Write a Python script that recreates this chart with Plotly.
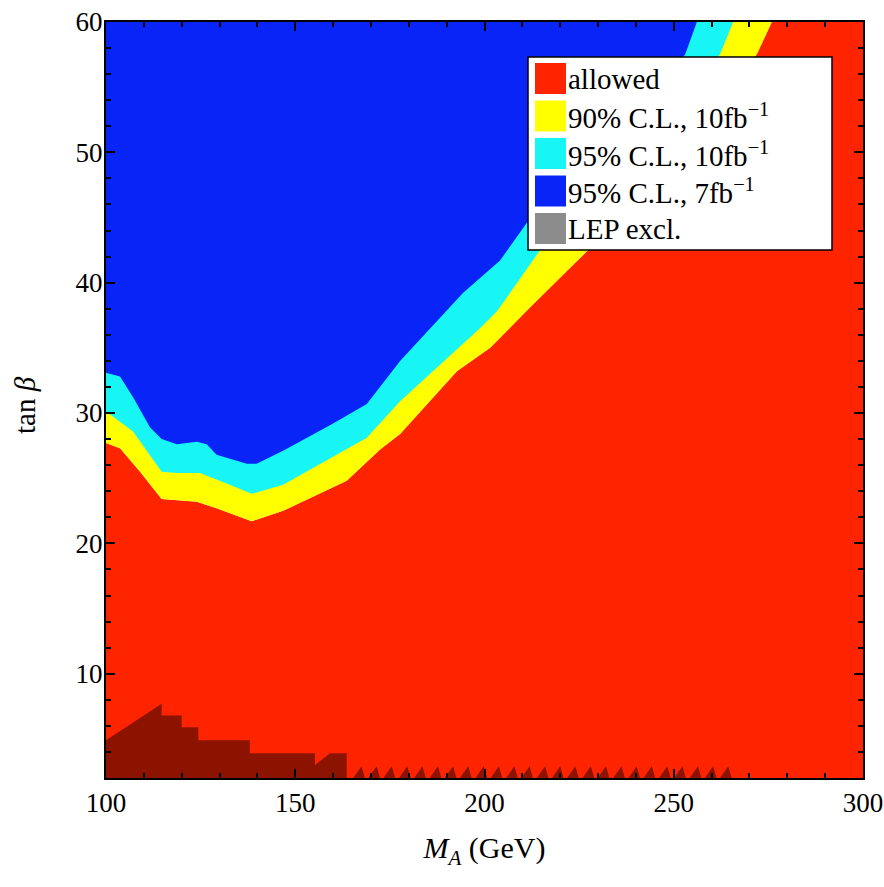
import plotly.graph_objects as go

# ---------------- data ----------------
X_MIN, X_MAX = 100, 300
Y_MIN, Y_MAX = 2, 60

# lower edge of the 95% C.L., 7 fb^-1 (blue) region
blue_ma = [100, 103.7, 107.2, 111.6, 114.7, 118.7, 124.0, 126.6, 129.2, 137.2, 139.8,
           146.8, 160.0, 168.9, 177.7, 194.3, 204.1, 211.2, 253.0, 256.1]
blue_tb = [33.1, 32.8, 31.2, 28.9, 28.0, 27.6, 27.8, 27.6, 26.8, 26.1, 26.1,
           27.1, 29.2, 30.7, 34.0, 39.2, 41.7, 44.6, 57.5, 60.0]

# lower edge of the 95% C.L., 10 fb^-1 (cyan) region
cyan_ma = [100, 101.0, 107.1, 114.7, 118.7, 124.8, 129.2, 138.5, 146.8, 162.6, 168.9,
           177.7, 198.8, 203.3, 214.7, 262.2, 265.7]
cyan_tb = [30.0, 29.9, 28.6, 25.5, 25.4, 25.4, 24.9, 23.8, 24.5, 27.1, 28.1,
           30.9, 36.5, 37.8, 42.5, 57.5, 60.0]

# lower edge of the 90% C.L., 10 fb^-1 (yellow) region
yellow_ma = [100, 103.7, 109.0, 114.7, 124.0, 129.2, 138.5, 146.8, 163.6, 172.4, 177.7,
             192.7, 201.5, 212.0, 227.0, 271.9, 275.9]
yellow_tb = [27.7, 27.3, 25.5, 23.4, 23.2, 22.7, 21.7, 22.5, 24.8, 27.2, 28.4,
             33.2, 35.0, 38.1, 42.4, 57.5, 60.0]

# LEP exclusion (stepped edge) and the small teeth along the bottom
lep_ma = [100, 114.7, 114.7, 120.0, 120.0, 124.4, 124.4, 138.0, 138.0, 155.2, 155.2,
          159.2, 163.6, 163.6]
lep_tb = [4.9, 7.7, 6.8, 6.8, 5.9, 5.9, 4.9, 4.9, 3.9, 3.9, 3.0,
          3.9, 3.9, 2.0]
lep_teeth_ma = [167.5, 171.5, 175.5, 179.6, 183.6, 187.7, 191.7, 195.7, 199.8, 203.8,
                207.9, 211.9, 216.0, 220.0, 224.0, 228.1, 232.1, 236.2, 240.2, 244.2,
                248.3, 252.3, 256.4, 260.4, 264.4]
lep_teeth_tb = 2.9

legend_labels = ["allowed",
                 "90% C.L., 10fb<sup>−1</sup>",
                 "95% C.L., 10fb<sup>−1</sup>",
                 "95% C.L., 7fb<sup>−1</sup>",
                 "LEP excl."]

# ---------------- styles ----------------
RED = "rgb(255,36,0)"
YELLOW = "rgb(255,255,0)"
CYAN = "rgb(24,245,245)"
BLUE = "rgb(8,36,246)"
LEP_FILL = "rgba(0,0,0,0.45)"
LEP_SWATCH = "rgb(140,140,140)"
FONT = "Liberation Serif"

fig = go.Figure()

# allowed region: below the yellow edge
fig.add_trace(go.Scatter(
    x=yellow_ma + [X_MAX, X_MAX, X_MIN], y=yellow_tb + [Y_MAX, Y_MIN, Y_MIN],
    fill="toself", fillcolor=RED, mode="lines", line=dict(width=0),
    name=legend_labels[0], showlegend=False, hoverinfo="skip"))

for ma, tb, col, name in [(yellow_ma, yellow_tb, YELLOW, legend_labels[1]),
                          (cyan_ma, cyan_tb, CYAN, legend_labels[2]),
                          (blue_ma, blue_tb, BLUE, legend_labels[3])]:
    fig.add_trace(go.Scatter(
        x=ma + [X_MIN], y=tb + [Y_MAX],
        fill="toself", fillcolor=col, mode="lines", line=dict(width=0),
        name=name, showlegend=False, hoverinfo="skip"))

# LEP polygon
TOOTH_L, TOOTH_R = 2.2, 0.9
lx, ly = list(lep_ma), list(lep_tb)
for a in lep_teeth_ma:
    lx += [a - TOOTH_L, a, a + TOOTH_R]
    ly += [Y_MIN, lep_teeth_tb, Y_MIN]
lx += [X_MIN]
ly += [Y_MIN]
fig.add_trace(go.Scatter(
    x=lx, y=ly, fill="toself", fillcolor=LEP_FILL, mode="lines", line=dict(width=0),
    name=legend_labels[4], showlegend=False, hoverinfo="skip"))

# ---------------- custom legend ----------------
W, H = 884, 887
ML, MR, MT, MB = 106, 21, 22, 109
PW, PH = W - ML - MR, H - MT - MB


def px(x):
    return (x - ML) / PW


def py(y):
    return 1 - (y - MT) / PH


shapes = [dict(type="rect", xref="paper", yref="paper",
               x0=px(528), x1=px(832), y0=py(250), y1=py(57),
               fillcolor="white", line=dict(color="black", width=1.5), layer="above")]
annotations = []
swatch_cols = [RED, YELLOW, CYAN, BLUE, LEP_SWATCH]
for i, (lab, col) in enumerate(zip(legend_labels, swatch_cols)):
    top = 63 + i * 37.5
    shapes.append(dict(type="rect", xref="paper", yref="paper",
                       x0=px(535), x1=px(566), y0=py(top + 31), y1=py(top),
                       fillcolor=col, line=dict(width=0), layer="above"))
    annotations.append(dict(xref="paper", yref="paper", x=px(566), y=py(top + 15.5),
                            text=lab, showarrow=False, xanchor="left", yanchor="middle",
                            font=dict(family=FONT, size=29, color="black")))

# y-axis title placed as a rotated annotation
annotations.append(dict(xref="paper", yref="paper", x=px(25), y=py(405),
                        text="tan <i>β</i>", textangle=-90, showarrow=False,
                        xanchor="center", yanchor="middle",
                        font=dict(family=FONT, size=29, color="black")))

axis_common = dict(showline=True, linecolor="black", linewidth=2, mirror="allticks",
                   ticks="inside", ticklen=9, tickwidth=1.5, tickcolor="black",
                   showgrid=False, zeroline=False, automargin=False,
                   tickfont=dict(family=FONT, size=27, color="black"))

fig.update_layout(
    width=W, height=H,
    margin=dict(l=ML, r=MR, t=MT, b=MB, autoexpand=False),
    paper_bgcolor="white", plot_bgcolor="white",
    shapes=shapes, annotations=annotations, showlegend=False,
    xaxis=dict(range=[X_MIN, X_MAX], tick0=100, dtick=50,
               minor=dict(dtick=10, ticks="inside", ticklen=5, tickcolor="black"),
               title=dict(text="<i>M</i><sub><i>A</i></sub> (GeV)",
                          font=dict(family=FONT, size=30, color="black"), standoff=20),
               **axis_common),
    yaxis=dict(range=[Y_MIN, Y_MAX], tick0=0, dtick=10, ticklabelstandoff=-4,
               minor=dict(dtick=2, ticks="inside", ticklen=5, tickcolor="black"),
               **axis_common),
)

fig.write_html("out.html")
